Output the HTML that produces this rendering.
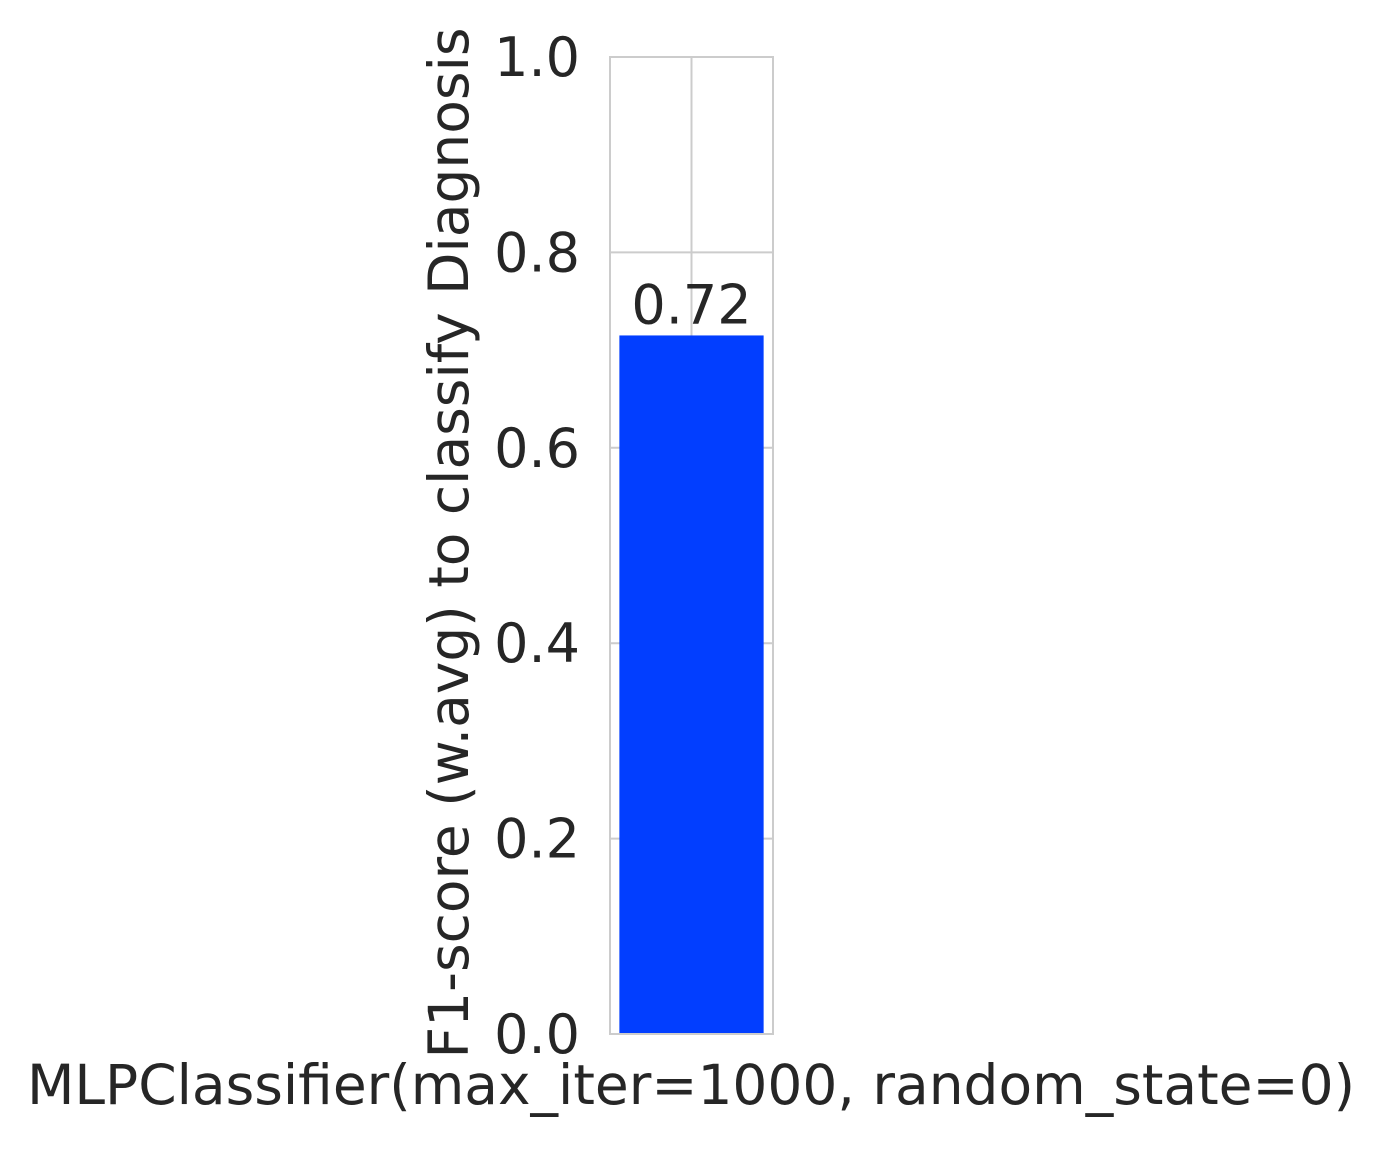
<!DOCTYPE html>
<html><head><meta charset="utf-8"><style>
html,body{margin:0;padding:0;background:#fff;}
svg text{font-family:"DejaVu Sans","Liberation Sans",sans-serif;fill:#262626;}
</style></head><body>
<svg width="1384" height="1146" viewBox="0 0 1384 1146" xmlns="http://www.w3.org/2000/svg">
<g id="grid"></g>
<g id="bars"></g>
<g id="axes"></g>
<text transform="translate(468,543) rotate(-90)" text-anchor="middle" font-size="55">F1-score (w.avg) to classify Diagnosis</text>
<text x="691" y="1104" text-anchor="middle" font-size="55">MLPClassifier(max_iter=1000, random_state=0)</text>
</svg>
<script>
const categories = ["MLPClassifier"];
const values = [0.715];
const valueLabels = ["0.72"];
const yTicks = [0, 0.2, 0.4, 0.6, 0.8, 1.0];
const yTickLabels = ["0.0","0.2","0.4","0.6","0.8","1.0"];

const NS="http://www.w3.org/2000/svg";
const L=610,R=773,T=57,B=1034;
const y=v=>B-(v-0)/(1-0)*(B-T);
const bandW=(R-L)/categories.length;
const xc=i=>L+bandW*(i+0.5);
function mk(tag,attrs,parent){const e=document.createElementNS(NS,tag);for(const k in attrs)e.setAttribute(k,attrs[k]);parent.appendChild(e);return e;}
const grid=document.getElementById('grid'),bars=document.getElementById('bars'),axes=document.getElementById('axes');
yTicks.forEach((t,i)=>{
  const g=mk('line',{x1:L,x2:R,y1:y(t),y2:y(t),stroke:'#cccccc','stroke-width':2},grid);
  
  
  const tx=mk('text',{x:L-30,y:y(t)+19,'text-anchor':'end','font-size':54},axes);
  tx.textContent=yTickLabels[i];
  
  
});
categories.forEach((c,i)=>{
  const g=mk('line',{x1:xc(i),x2:xc(i),y1:T,y2:B,stroke:'#cccccc','stroke-width':2},grid);
  
  
  const w=bandW*0.885;
  const b=mk('rect',{x:xc(i)-w/2,y:y(values[i]),width:w,height:B-y(values[i]),fill:'#023eff'},bars);
  
  
  const lt=mk('text',{x:xc(i),y:y(values[i])-12,'text-anchor':'middle','font-size':54},bars);
  lt.textContent=valueLabels[i];
  
  
});
const fr=mk('rect',{x:L,y:T,width:R-L,height:B-T,fill:'none',stroke:'#cccccc','stroke-width':2},axes);


</script>
</body></html>
